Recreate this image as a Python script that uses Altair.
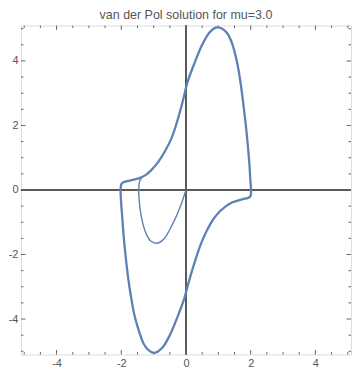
import altair as alt
import pandas as pd

# ---- data ----
transient_x = [0.0, -0.2, -0.45, -0.69, -0.89, -1.09, -1.24, -1.37, -1.44, -1.46, -1.44, -1.38, -1.3]
transient_y = [0.0, -0.58, -1.13, -1.53, -1.65, -1.58, -1.33, -0.88, -0.38, 0.02, 0.25, 0.37, 0.43]

cycle_x = [-1.44, -1.24, -1.05, -0.85, -0.65, -0.45, -0.25, -0.1, 0.05, 0.25, 0.5, 0.74,
           0.95, 1.12, 1.28, 1.44, 1.58, 1.69, 1.78, 1.85, 1.91, 1.96, 1.99, 2.01, 2.0, 1.95,
           1.74, 1.44, 1.24, 1.05, 0.85, 0.65, 0.45, 0.25, 0.1, -0.05, -0.25, -0.5, -0.74,
           -0.97, -1.14, -1.3, -1.46, -1.6, -1.7, -1.79, -1.86, -1.92, -1.97, -2.01, -2.02,
           -2.0, -1.95, -1.74, -1.44]
cycle_y = [0.37, 0.47, 0.64, 0.88, 1.2, 1.6, 2.2, 2.75, 3.35, 3.9, 4.5, 4.9,
           5.04, 5.0, 4.85, 4.5, 3.95, 3.3, 2.6, 2.0, 1.4, 0.8, 0.3, 0.0, -0.17, -0.23,
           -0.29, -0.38, -0.5, -0.66, -0.9, -1.25, -1.7, -2.3, -2.8, -3.35, -3.9, -4.5, -4.9,
           -5.05, -4.98, -4.78, -4.35, -3.85, -3.3, -2.7, -2.1, -1.5, -0.85, -0.3, 0.02,
           0.17, 0.23, 0.29, 0.37]

major_ticks = [-4, -2, 0, 2, 4]
minor_ticks = [-5, -4.5, -3.5, -3, -2.5, -1.5, -1, -0.5, 0.5, 1, 1.5, 2.5, 3, 3.5, 4.5, 5]
axis_domain = [-5.1, 5.1]

W, H = 331, 330
BLUE = "#5E81B5"
GRAY = "#666666"

trans = pd.DataFrame({"x": transient_x, "y": transient_y, "i": range(len(transient_x))})
cyc = pd.DataFrame({"x": cycle_x, "y": cycle_y, "i": range(len(cycle_x))})
majors = pd.DataFrame({"v": major_ticks})
minors = pd.DataFrame({"v": minor_ticks})

xs = alt.Scale(domain=axis_domain, nice=False, zero=False)
ys = alt.Scale(domain=axis_domain, nice=False, zero=False)

label_expr = "datum.value < 0 ? '-' + abs(datum.value) : '' + datum.value"
xaxis = alt.Axis(values=major_ticks, labelExpr=label_expr, title=None, ticks=False, domain=False,
                 grid=False, labelPadding=3, labelFontSize=11, labelColor="#555555",
                 labelFont="Liberation Sans")
yaxis = alt.Axis(values=major_ticks, labelExpr=label_expr, title=None, ticks=False, domain=False,
                 grid=False, labelPadding=3, labelFontSize=11, labelColor="#555555",
                 labelFont="Liberation Sans")

cycle_line = alt.Chart(cyc).mark_line(color=BLUE, strokeWidth=2.3, interpolate="catmull-rom").encode(
    x=alt.X("x:Q", scale=xs, axis=xaxis),
    y=alt.Y("y:Q", scale=ys, axis=yaxis),
    order="i:Q",
)
trans_line = alt.Chart(trans).mark_line(color=BLUE, strokeWidth=1.4, interpolate="catmull-rom").encode(
    x=alt.X("x:Q", scale=xs, axis=xaxis),
    y=alt.Y("y:Q", scale=ys, axis=yaxis),
    order="i:Q",
)

zero_v = alt.Chart(majors).mark_rule(color="#555555", strokeWidth=1).encode(
    x=alt.datum(0, scale=xs, axis=xaxis))
zero_h = alt.Chart(majors).mark_rule(color="#555555", strokeWidth=1).encode(
    y=alt.datum(0, scale=ys, axis=yaxis))


def tick_layers(df, length):
    base = alt.Chart(df).mark_rule(color=GRAY, strokeWidth=1)
    return [
        base.encode(x=alt.X("v:Q", scale=xs, axis=xaxis), y=alt.value(H), y2=alt.value(H - length)),
        base.encode(x=alt.X("v:Q", scale=xs, axis=xaxis), y=alt.value(0), y2=alt.value(length)),
        base.encode(y=alt.Y("v:Q", scale=ys, axis=yaxis), x=alt.value(0), x2=alt.value(length)),
        base.encode(y=alt.Y("v:Q", scale=ys, axis=yaxis), x=alt.value(W), x2=alt.value(W - length)),
    ]


layers = [zero_v, zero_h] + tick_layers(majors, 4.5) + tick_layers(minors, 2.5) + [trans_line, cycle_line]

chart = alt.layer(*layers).properties(
    width=W, height=H,
    title=alt.TitleParams("van der Pol solution for mu=3.0", fontSize=12.5, font="Liberation Sans",
                          fontWeight="normal", color="#555555", offset=1),
).configure_view(stroke=GRAY, strokeWidth=1).configure(padding=0)

chart.save("out.html", embed_options={"renderer": "svg", "actions": False})
